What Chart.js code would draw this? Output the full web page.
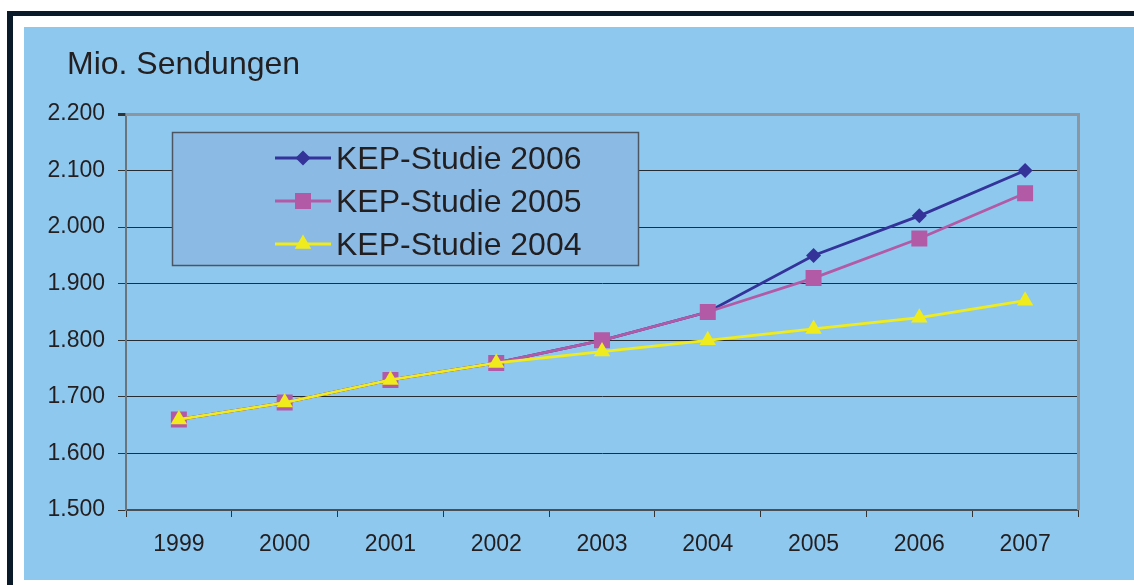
<!DOCTYPE html>
<html>
<head>
<meta charset="utf-8">
<script src="https://cdn.jsdelivr.net/npm/chart.js@4"></script>
<style>
  html, body { margin: 0; padding: 0; background: #ffffff; width: 1134px; height: 585px; overflow: hidden; }
  #frame { position: absolute; left: 7px; top: 11px; width: 1200px; height: 700px;
           border-left: 6px solid #0b1a29; border-top: 5px solid #0b1a29; box-sizing: border-box; }
  #panel { position: absolute; left: 24px; top: 27px; width: 1110px; height: 553px; background: #8fc8ee; }
  #panel canvas { display: block; }
</style>
</head>
<body>
<div id="frame"></div>
<div id="panel"><canvas id="c" width="1110" height="553"></canvas></div>
<script>
const categories = ['1999', '2000', '2001', '2002', '2003', '2004', '2005', '2006', '2007'];
const kep2006 = [1660, 1690, 1730, 1760, 1800, 1850, 1950, 2020, 2100];
const kep2005 = [1660, 1690, 1730, 1760, 1800, 1850, 1910, 1980, 2060];
const kep2004 = [1660, 1690, 1730, 1760, 1780, 1800, 1820, 1840, 1870];
const seriesLabels = ['KEP-Studie 2006', 'KEP-Studie 2005', 'KEP-Studie 2004'];
const yTitle = 'Mio. Sendungen';
const yMin = 1500, yMax = 2200, yStep = 100;

const FONT = '"Liberation Sans", Arial, sans-serif';
const TEXT = '#231f20';

function fmtDE(v) { return String(v).replace(/\B(?=(\d{3})+(?!\d))/g, '.'); }

const frameBorder = {
  id: 'frameBorder',
  beforeDatasetsDraw(chart) {
    const a = chart.chartArea, ctx = chart.ctx;
    ctx.save();
    ctx.strokeStyle = '#8a97a3';
    ctx.lineWidth = 3;
    ctx.beginPath();
    ctx.moveTo(a.left, a.top + 0.5);
    ctx.lineTo(a.right + 0.5, a.top + 0.5);
    ctx.lineTo(a.right + 0.5, a.bottom);
    ctx.stroke();
    ctx.restore();
  }
};

const axisTitle = {
  id: 'axisTitle',
  afterDraw(chart) {
    const ctx = chart.ctx;
    ctx.save();
    ctx.fillStyle = TEXT;
    ctx.font = '32px ' + FONT;
    ctx.textBaseline = 'alphabetic';
    ctx.textAlign = 'left';
    ctx.fillText(yTitle, 43, 47);
    ctx.restore();
  }
};

const boxLegend = {
  id: 'boxLegend',
  afterDraw(chart) {
    const ctx = chart.ctx;
    const bx = 148, by = 105, bw = 466, bh = 133;
    ctx.save();
    ctx.fillStyle = '#8bbbe5';
    ctx.fillRect(bx, by, bw, bh);
    ctx.strokeStyle = '#4d5660';
    ctx.lineWidth = 1.5;
    ctx.strokeRect(bx + 0.5, by + 0.5, bw, bh);
    const rows = [131, 174, 217];
    chart.data.datasets.forEach((ds, i) => {
      const y = rows[i];
      ctx.strokeStyle = ds.borderColor;
      ctx.lineWidth = ds.borderWidth;
      ctx.beginPath();
      ctx.moveTo(251, y);
      ctx.lineTo(307, y);
      ctx.stroke();
      ctx.fillStyle = ds.pointBackgroundColor;
      ctx.strokeStyle = ds.pointBackgroundColor;
      Chart.helpers.drawPoint(ctx, {
        pointStyle: ds.pointStyle, rotation: 0, borderWidth: 0, radius: ds.pointRadius
      }, 279, y);
      ctx.fillStyle = TEXT;
      ctx.font = '32px ' + FONT;
      ctx.textBaseline = 'middle';
      ctx.textAlign = 'left';
      ctx.fillText(ds.label, 312, y + 2);
    });
    ctx.restore();
  }
};

new Chart(document.getElementById('c'), {
  type: 'line',
  data: {
    labels: categories,
    datasets: [
      { label: seriesLabels[0], data: kep2006, borderColor: '#333399', backgroundColor: '#333399',
        pointBackgroundColor: '#333399', pointBorderColor: '#333399', pointStyle: 'rectRot',
        pointRadius: 7.5, pointBorderWidth: 0, borderWidth: 2.8, order: 2 },
      { label: seriesLabels[1], data: kep2005, borderColor: '#b35aa6', backgroundColor: '#b35aa6',
        pointBackgroundColor: '#b35aa6', pointBorderColor: '#b35aa6', pointStyle: 'rect',
        pointRadius: 11.3, pointBorderWidth: 0, borderWidth: 2.8, order: 1 },
      { label: seriesLabels[2], data: kep2004, borderColor: '#efeb1c', backgroundColor: '#efeb1c',
        pointBackgroundColor: '#efeb1c', pointBorderColor: '#efeb1c', pointStyle: 'triangle',
        pointRadius: 9.5, pointBorderWidth: 0, borderWidth: 2.8, order: 0 }
    ]
  },
  options: {
    responsive: false,
    animation: false,
    devicePixelRatio: 1,
    layout: { padding: { left: 6, right: 56, top: 87, bottom: 0 } },
    plugins: {
      legend: { display: false },
      tooltip: { enabled: false },
      title: { display: false }
    },
    scales: {
      x: {
        offset: true,
        grid: { offset: true, drawOnChartArea: false, drawTicks: true, tickLength: 7, color: '#333333', lineWidth: 1 },
        border: { display: true, color: '#4a4f55', width: 2 },
        ticks: { color: TEXT, font: { family: FONT, size: 23 }, padding: 14, maxRotation: 0, autoSkip: false },
        afterFit(s) { s.height = 70; }
      },
      y: {
        min: yMin, max: yMax,
        grid: {
          color: (c) => (c.tick && c.tick.value === yMax) ? '#8a97a3' : '#262c33',
          lineWidth: (c) => (c.tick && c.tick.value === yMax) ? 3 : 1,
          tickColor: '#333333', tickLength: 8, drawTicks: true
        },
        border: { display: true, color: '#6b737b', width: 2 },
        ticks: { stepSize: yStep, color: TEXT, font: { family: FONT, size: 23 }, padding: 13,
                 callback: (v) => fmtDE(v) },
        afterFit(s) { s.width = 96; }
      }
    }
  },
  plugins: [frameBorder, axisTitle, boxLegend]
});
</script>
</body>
</html>
